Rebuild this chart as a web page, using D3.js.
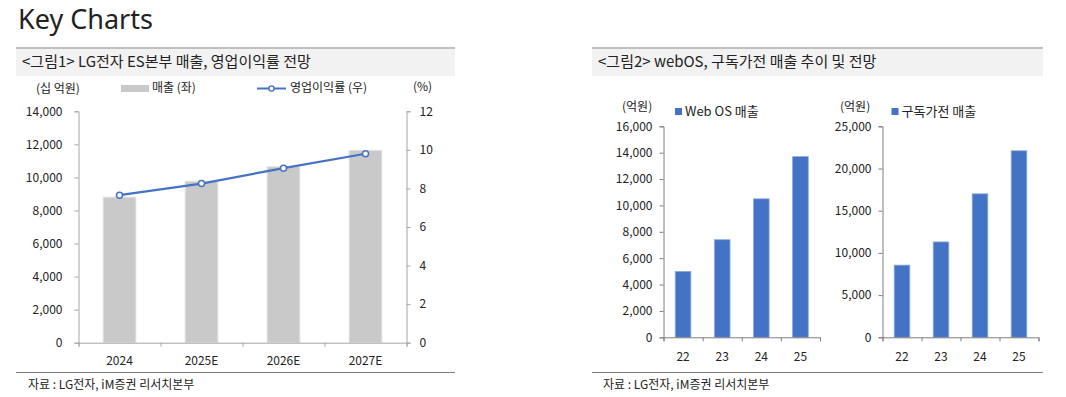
<!DOCTYPE html>
<html><head><meta charset="utf-8">
<script src="https://cdn.jsdelivr.net/npm/d3@7"></script>
<style>
body{margin:0;background:#fff;}
svg text{font-family:"Noto Sans CJK KR","Noto Sans",sans-serif;fill:#222;}
</style></head>
<body><svg id="c" width="1066" height="397"></svg>
<script>
// ---- data ----
const esYears = ["2024","2025E","2026E","2027E"];
const esSales = [8810, 9770, 10650, 11640];          // 십억원
const esMargin = [7.65, 8.25, 9.05, 9.8];           // %
const esLeftTicks = [0,2000,4000,6000,8000,10000,12000,14000];
const esRightTicks = [0,2,4,6,8,10,12];

const subYears = ["22","23","24","25"];
const webosSales = [5000, 7400, 10500, 13700];       // 억원
const webosTicks = [0,2000,4000,6000,8000,10000,12000,14000,16000];
const subsSales = [8550, 11300, 17000, 22100];       // 억원
const subsTicks = [0,5000,10000,15000,20000,25000];

const svg = d3.select("#c");
const fmt = d3.format(",");
const axisCol = "#a6a6a6";
const blue = "#4472C4";

// main title
svg.append("text").attr("x",18).attr("y",29).attr("font-size",27).style("font-family","'Noto Sans',sans-serif").text("Key Charts");

// section headers
function header(x0,x1,label){
  svg.append("rect").attr("x",x0).attr("y",48).attr("width",x1-x0).attr("height",28).attr("fill","#f2f2f2");
  svg.append("line").attr("x1",x0).attr("x2",x1).attr("y1",48).attr("y2",48).attr("stroke","#bfbfbf").attr("stroke-width",2);
  svg.append("text").attr("x",x0+6).attr("y",67).attr("font-size",15).text(label);
}
header(16,455,"<그림1> LG전자 ES본부 매출, 영업이익률 전망");
header(592,1043,"<그림2> webOS, 구독가전 매출 추이 및 전망");

function footer(x0,x1,tx){
  svg.append("line").attr("x1",x0).attr("x2",x1).attr("y1",372.5).attr("y2",372.5).attr("stroke","#7f7f7f").attr("stroke-width",1);
  svg.append("text").attr("x",tx).attr("y",389).attr("font-size",12).text("자료 : LG전자, iM증권 리서치본부");
}
footer(16,455,28);
footer(592,1043,603);

// ---- chart 1 ----
{
  const x0=78.5, x1=406.5, yTop=111.3, yBot=342.7;
  const x = d3.scaleBand().domain(esYears).range([x0,x1]).paddingInner(0.6).paddingOuter(0.3);
  const yL = d3.scaleLinear().domain([0,14000]).range([yBot,yTop]);
  const yR = d3.scaleLinear().domain([0,12]).range([yBot,yTop]);
  const g = svg.append("g");
  g.selectAll("rect.bar").data(esSales).join("rect")
    .attr("x",(d,i)=>x(esYears[i])).attr("width",x.bandwidth())
    .attr("y",d=>yL(d)).attr("height",d=>yBot-yL(d))
    .attr("fill","#c9c9c9").attr("stroke","#e6e6e6").attr("stroke-width",1);
  // left axis
  const la = g.append("g").attr("transform",`translate(${x0},0)`).call(d3.axisLeft(yL).tickValues(esLeftTicks).tickFormat(fmt).tickSize(4).tickPadding(12));
  const ra = g.append("g").attr("transform",`translate(${x1},0)`).call(d3.axisRight(yR).tickValues(esRightTicks).tickSize(4).tickPadding(9));
  // x axis line with dividers
  const xb = d3.scaleLinear().domain([0,4]).range([x0,x1]);
  const xa = g.append("g").attr("transform",`translate(0,${yBot})`).call(d3.axisBottom(xb).ticks(4).tickSize(4).tickFormat(""));
  [la,ra,xa].forEach(a=>{a.select(".domain").attr("stroke",axisCol);a.selectAll(".tick line").attr("stroke",axisCol);a.selectAll("text").attr("font-size",12).attr("fill","#222").style("font-family","'Noto Sans CJK KR',sans-serif");});
  g.selectAll("text.xl").data(esYears).join("text").attr("class","xl")
    .attr("x",d=>x(d)+x.bandwidth()/2).attr("y",365).attr("text-anchor","middle").attr("font-size",12).text(d=>d);
  // line
  const line = d3.line().x((d,i)=>x(esYears[i])+x.bandwidth()/2).y(d=>yR(d));
  g.append("path").datum(esMargin).attr("d",line).attr("fill","none").attr("stroke",blue).attr("stroke-width",2.2);
  g.selectAll("circle.pt").data(esMargin).join("circle").attr("class","pt")
    .attr("cx",(d,i)=>x(esYears[i])+x.bandwidth()/2).attr("cy",d=>yR(d)).attr("r",3)
    .attr("fill","#fff").attr("stroke",blue).attr("stroke-width",1.5);
  // unit & legend
  g.append("text").attr("x",36).attr("y",93).attr("font-size",12).text("(십 억원)");
  g.append("text").attr("x",413).attr("y",91).attr("font-size",12).text("(%)");
  g.append("rect").attr("x",121).attr("y",85).attr("width",28).attr("height",7).attr("fill","#c9c9c9");
  g.append("text").attr("x",152).attr("y",92).attr("font-size",12).text("매출 (좌)");
  g.append("line").attr("x1",257).attr("x2",286).attr("y1",88.5).attr("y2",88.5).attr("stroke",blue).attr("stroke-width",2);
  g.append("circle").attr("cx",271.5).attr("cy",88.5).attr("r",2.6).attr("fill","#fff").attr("stroke",blue).attr("stroke-width",1.4);
  g.append("text").attr("x",290).attr("y",92).attr("font-size",12).text("영업이익률 (우)");
}

// ---- small bar charts ----
function smallChart(x0,x1,yTop,yBot,vals,ticks,unitX,legX,legLabel){
  const x = d3.scaleBand().domain(subYears).range([x0,x1]).paddingInner(0.6).paddingOuter(0.3);
  const y = d3.scaleLinear().domain([0,d3.max(ticks)]).range([yBot,yTop]);
  const g = svg.append("g");
  g.selectAll("rect").data(vals).join("rect")
    .attr("x",(d,i)=>x(subYears[i])).attr("width",x.bandwidth())
    .attr("y",d=>y(d)).attr("height",d=>yBot-y(d))
    .attr("fill",blue).attr("stroke","#8eaadb").attr("stroke-width",0.8);
  const ya = g.append("g").attr("transform",`translate(${x0},0)`).call(d3.axisLeft(y).tickValues(ticks).tickFormat(fmt).tickSize(4).tickPadding(7));
  const xb = d3.scaleLinear().domain([0,4]).range([x0,x1]);
  const xa = g.append("g").attr("transform",`translate(0,${yBot})`).call(d3.axisBottom(xb).ticks(4).tickSize(4).tickFormat(""));
  [ya,xa].forEach(a=>{a.select(".domain").attr("stroke","#7f7f7f");a.selectAll(".tick line").attr("stroke","#7f7f7f");a.selectAll("text").attr("font-size",12).attr("fill","#222").style("font-family","'Noto Sans CJK KR',sans-serif");});
  g.selectAll("text.xl").data(subYears).join("text").attr("class","xl")
    .attr("x",d=>x(d)+x.bandwidth()/2).attr("y",361).attr("text-anchor","middle").attr("font-size",12).text(d=>d);
  g.append("text").attr("x",unitX).attr("y",111).attr("font-size",12).text("(억원)");
  g.append("rect").attr("x",legX).attr("y",108).attr("width",7).attr("height",7).attr("fill",blue);
  g.append("text").attr("x",legX+10).attr("y",116).attr("font-size",13).text(legLabel);
}
smallChart(663.5,820,126.3,337.3,webosSales,webosTicks,622,675,"Web OS 매출");
smallChart(882.5,1038.5,126.3,337.3,subsSales,subsTicks,840,891.5,"구독가전 매출");
</script></body></html>
